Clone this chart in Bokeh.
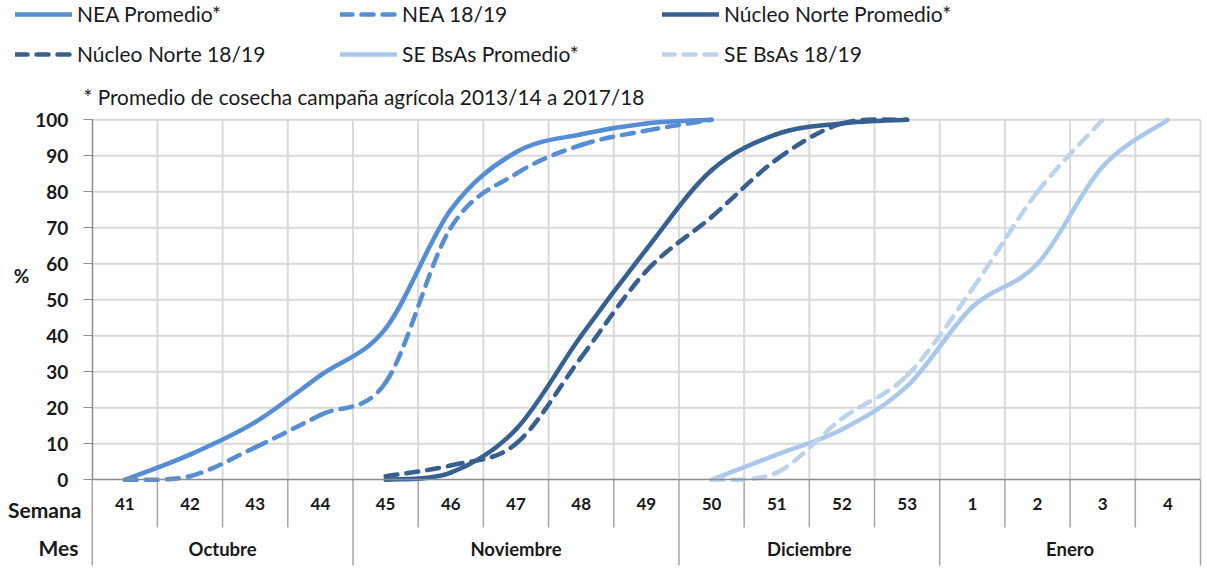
from bokeh.plotting import figure
from bokeh.models import (Range1d, FixedTicker, LinearAxis, Legend, LegendItem)
from bokeh.core.properties import value
from bokeh.embed import file_html
from bokeh.resources import INLINE

# ---------------- data ----------------
weeks = ["41", "42", "43", "44", "45", "46", "47", "48", "49",
         "50", "51", "52", "53", "1", "2", "3", "4"]
months = ["Octubre", "Noviembre", "Diciembre", "Enero"]
month_weeks = [4, 5, 4, 4]          # number of weeks in each month

nea_prom = [0, 7, 16, 29, 42, 75, 91, 96, 99, 100,
            None, None, None, None, None, None, None]
nea_1819 = [0, 1, 9, 18, 27, 70, 85, 93, 97, 100,
            None, None, None, None, None, None, None]
nn_prom = [None, None, None, None, 0, 2, 14, 40, 64, 86, 96, 99, 100,
           None, None, None, None]
nn_1819 = [None, None, None, None, 1, 4, 10, 34, 58, 73, 89, 99, 100,
           None, None, None, None]
se_prom = [None, None, None, None, None, None, None, None, None,
           0, 7, 14, 26, 48, 60, 87, 100]
se_1819 = [None, None, None, None, None, None, None, None, None,
           0, 2, 17, 29, 53, 80, 100, None]

y_ticks = [0, 10, 20, 30, 40, 50, 60, 70, 80, 90, 100]

# ---------------- layout / styles ----------------
W, H = 1207, 570
PLOT_L, PLOT_R = 91.7, 1200.0        # page x of category 0 / 17 edges
PLOT_T, PLOT_B = 119.3, 479.3        # page y of 100 / 0
FONT = "Lato"
C_NEA = "#558ED5"
C_NN = "#376092"
C_SE = "#A9C8EC"
C_SE2 = "#BCD3EC"
GRID = "#D9D9D9"
AX = "#8C8C8C"
SEP = "#A6A6A6"
TXT = "#1A1A1A"
DASH = "12 9"

n = len(weeks)
centers = [i + 0.5 for i in range(n)]
bounds = list(range(n + 1))
m_bounds = [0]
for k in month_weeks:
    m_bounds.append(m_bounds[-1] + k)
m_centers = [(m_bounds[i] + m_bounds[i + 1]) / 2 for i in range(len(months))]

kx = (PLOT_R - PLOT_L) / n           # px per category
ky = (PLOT_B - PLOT_T) / 100.0       # px per percent
def dx(px): return (px - PLOT_L) / kx
def dy(py): return (PLOT_B - py) / ky

p = figure(width=W, height=H, output_backend="svg", toolbar_location=None,
           x_range=Range1d(dx(0), dx(W)), y_range=Range1d(dy(H), dy(0)),
           min_border=0, outline_line_color=None)
p.xgrid.visible = False
p.ygrid.visible = False
p.below = []
p.left = []

# ---------------- grid & separators ----------------
y_sep_w = dy(527)
y_sep_m = dy(565)
p.segment(x0=bounds[1:], y0=[0] * n, x1=bounds[1:], y1=[100] * n,
          line_color=GRID, line_width=2, level="underlay")
p.segment(x0=[0] * (len(y_ticks) - 1), y0=y_ticks[1:], x1=[n] * (len(y_ticks) - 1),
          y1=y_ticks[1:], line_color=GRID, line_width=2, level="underlay")
wk_only = [b for b in bounds if b not in m_bounds]
p.segment(x0=wk_only, y0=[0] * len(wk_only), x1=wk_only, y1=[y_sep_w] * len(wk_only),
          line_color=SEP, line_width=1.5, level="underlay")
p.segment(x0=m_bounds, y0=[0] * len(m_bounds), x1=m_bounds, y1=[y_sep_m] * len(m_bounds),
          line_color=SEP, line_width=1.5, level="underlay")

# ---------------- axes (drawn at fixed data locations) ----------------
xa = LinearAxis(ticker=FixedTicker(ticks=centers), fixed_location=0, bounds=(0, n),
                major_label_overrides={c: w for c, w in zip(centers, weeks)})
xa.axis_line_color = AX
xa.axis_line_width = 1.5
xa.major_tick_in = 0
xa.major_tick_out = 0
xa.minor_tick_line_color = None
xa.major_label_standoff = 18
xa.major_label_text_font = FONT
xa.major_label_text_font_style = "bold"
xa.major_label_text_font_size = "17px"
xa.major_label_text_color = TXT
p.add_layout(xa, "below")

ma = LinearAxis(ticker=FixedTicker(ticks=m_centers), fixed_location=y_sep_w, bounds=(0, n),
                major_label_overrides={c: m for c, m in zip(m_centers, months)})
ma.axis_line_color = None
ma.major_tick_in = 0
ma.major_tick_out = 0
ma.minor_tick_line_color = None
ma.major_label_standoff = 10
ma.major_label_text_font = FONT
ma.major_label_text_font_style = "bold"
ma.major_label_text_font_size = "18.5px"
ma.major_label_text_color = TXT
p.add_layout(ma, "below")

ya = LinearAxis(ticker=FixedTicker(ticks=y_ticks), fixed_location=0, bounds=(0, 100))
ya.axis_line_color = AX
ya.axis_line_width = 1.5
ya.major_tick_in = 0
ya.major_tick_out = 9
ya.major_tick_line_color = AX
ya.minor_tick_line_color = None
ya.major_label_standoff = 15
ya.major_label_text_font = FONT
ya.major_label_text_font_style = "bold"
ya.major_label_text_font_size = "19px"
ya.major_label_text_color = TXT
p.add_layout(ya, "left")


# ---------------- series (Excel-style smoothed lines) ----------------
def draw_smooth(vals, color, dash):
    pts = [(c, v) for c, v in zip(centers, vals) if v is not None]
    k = len(pts)
    x0, y0, x1, y1, cx0, cy0, cx1, cy1 = ([] for _ in range(8))
    for i in range(k - 1):
        pp = pts[max(i - 1, 0)]
        a = pts[i]
        b = pts[i + 1]
        nx = pts[min(i + 2, k - 1)]
        x0.append(a[0]); y0.append(a[1]); x1.append(b[0]); y1.append(b[1])
        cx0.append(a[0] + (b[0] - pp[0]) / 6); cy0.append(a[1] + (b[1] - pp[1]) / 6)
        cx1.append(b[0] - (nx[0] - a[0]) / 6); cy1.append(b[1] - (nx[1] - a[1]) / 6)
    kw = dict(line_color=color, line_width=4.5, line_cap="round")
    if dash:
        kw.update(line_dash=DASH)
    p.bezier(x0=x0, y0=y0, x1=x1, y1=y1, cx0=cx0, cy0=cy0, cx1=cx1, cy1=cy1, **kw)
    # renderer with no visible points, used only for the legend sample
    return p.line(x=[float("nan")], y=[float("nan")], **kw)


series = [
    ("NEA Promedio*", nea_prom, C_NEA, False),
    ("NEA 18/19", nea_1819, C_NEA, True),
    ("Núcleo Norte Promedio*", nn_prom, C_NN, False),
    ("Núcleo Norte 18/19", nn_1819, C_NN, True),
    ("SE BsAs Promedio*", se_prom, C_SE, False),
    ("SE BsAs 18/19", se_1819, C_SE2, True),
]
order = [4, 5, 2, 3, 0, 1]
leg_r = {}
for idx in order:
    name, vals, col, dash = series[idx]
    leg_r[name] = draw_smooth(vals, col, dash)

cols = [
    (15, ["NEA Promedio*", "Núcleo Norte 18/19"]),
    (340, ["NEA 18/19", "SE BsAs Promedio*"]),
    (662, ["Núcleo Norte Promedio*", "SE BsAs 18/19"]),
]
for x, names in cols:
    lg = Legend(items=[LegendItem(label=nm, renderers=[leg_r[nm]]) for nm in names],
                location=(x, H - 66), orientation="vertical")
    lg.padding = 0
    lg.margin = 0
    lg.spacing = 15
    lg.glyph_width = 57
    lg.glyph_height = 20
    lg.label_height = 20
    lg.label_standoff = 5
    lg.label_text_font = FONT
    lg.label_text_font_size = "21px"
    lg.label_text_color = TXT
    lg.border_line_color = None
    lg.background_fill_alpha = 0
    p.add_layout(lg, "center")

# ---------------- free texts ----------------
tk = dict(text_font=value(FONT), text_color=TXT, text_baseline="middle")
p.text(x=[dx(83)], y=[dy(96)], text=["* Promedio de cosecha campaña agrícola 2013/14  a 2017/18"],
       text_align="left", text_font_size="20.8px", **tk)
p.text(x=[dx(21)], y=[dy(275)], text=["%"], text_align="center", text_font_style="bold",
       text_font_size="19px", **tk)
p.text(x=[dx(81)], y=[dy(509)], text=["Semana"], text_align="right", text_font_style="bold",
       text_font_size="21px", **tk)
p.text(x=[dx(78)], y=[dy(547)], text=["Mes"], text_align="right", text_font_style="bold",
       text_font_size="21px", **tk)

open("out.html", "w").write(file_html(p, INLINE))
